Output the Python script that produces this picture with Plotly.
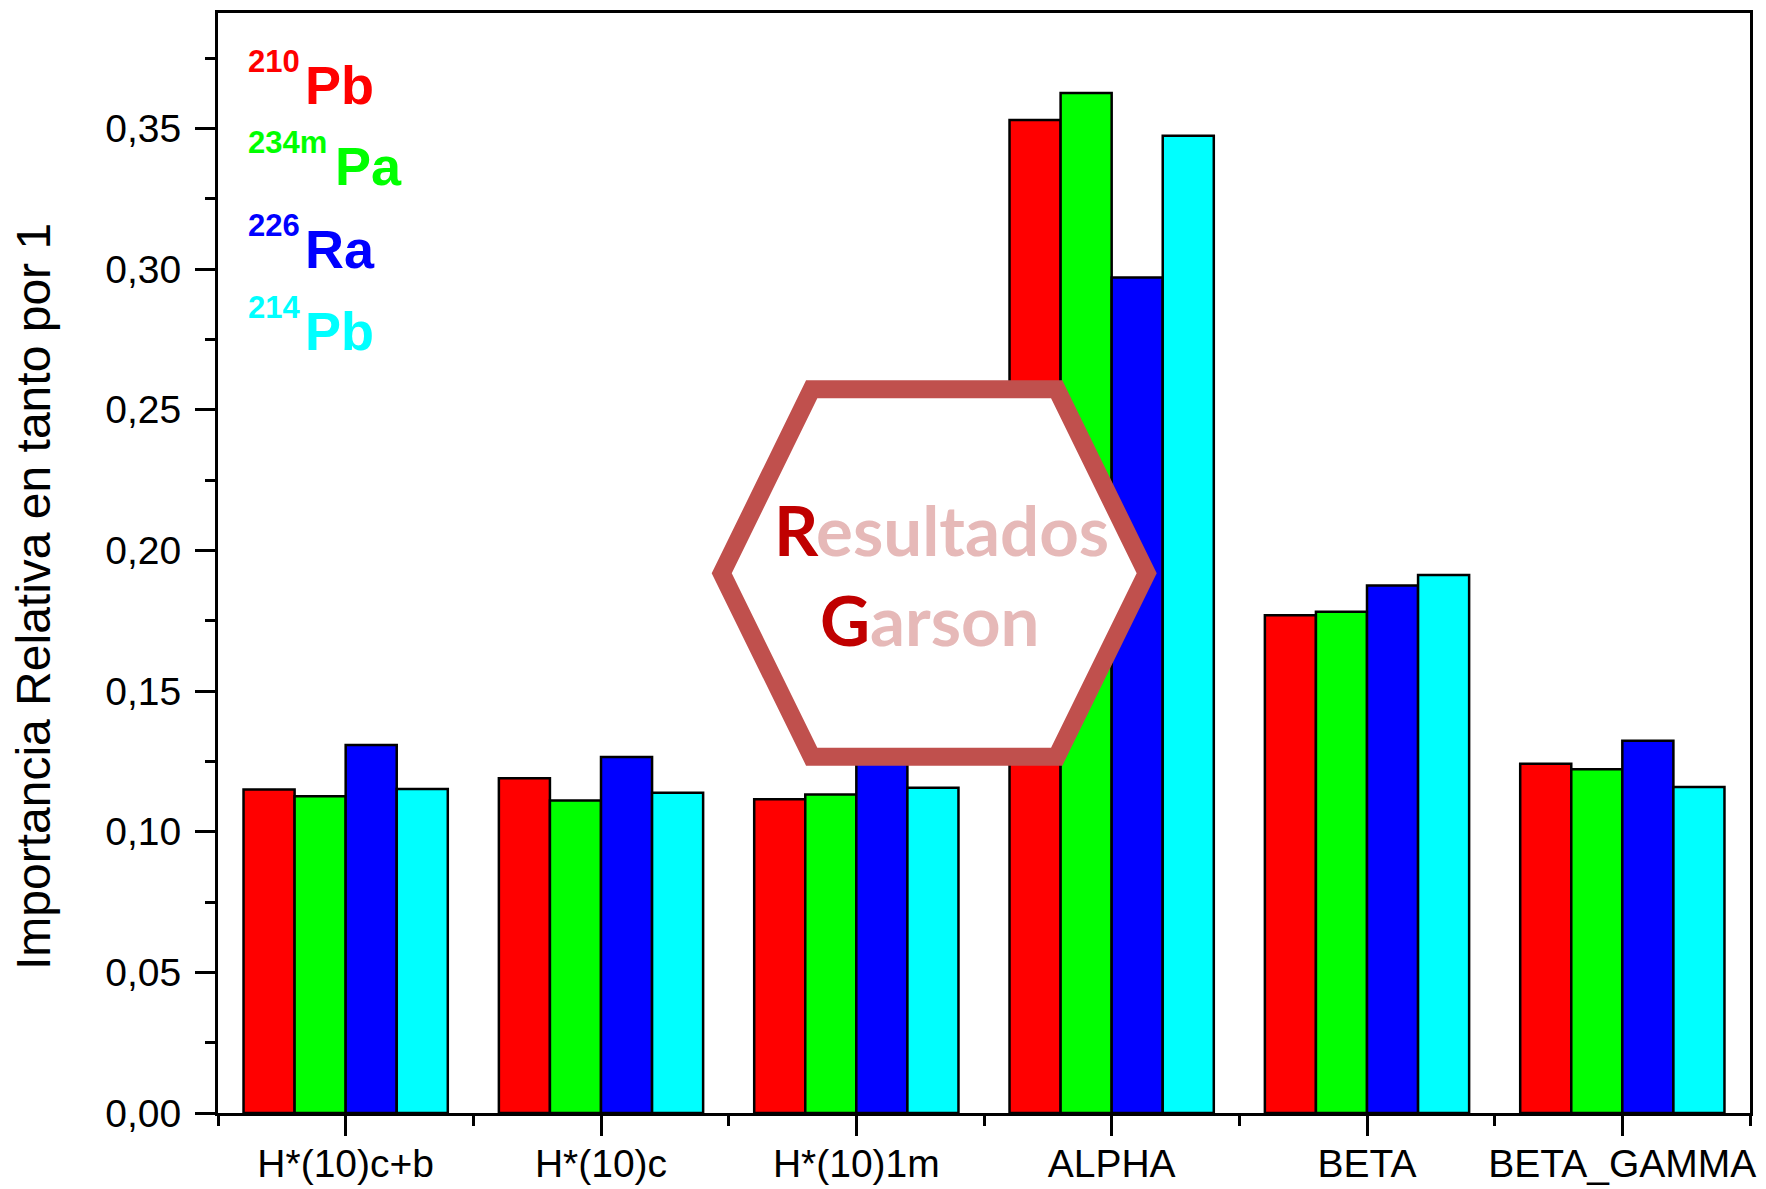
import plotly.graph_objects as go

# ---------------- data ----------------
categories = ["H*(10)c+b", "H*(10)c", "H*(10)1m", "ALPHA", "BETA", "BETA_GAMMA"]
pb210 = [0.1150, 0.1190, 0.1115, 0.3530, 0.1769, 0.1241]
pa234m = [0.1126, 0.1111, 0.1132, 0.3626, 0.1782, 0.1222]
ra226 = [0.1308, 0.1265, 0.1310, 0.2970, 0.1875, 0.1323]
pb214 = [0.1152, 0.1138, 0.1156, 0.3474, 0.1912, 0.1159]

series_names = ["210Pb", "234mPa", "226Ra", "214Pb"]
series_values = [pb210, pa234m, ra226, pb214]
series_colors = ["#FF0000", "#00FF00", "#0000FF", "#00FFFF"]
legend_sup = ["210", "234m", "226", "214"]
legend_main = ["Pb", "Pa", "Ra", "Pb"]

y_ticks = [0.00, 0.05, 0.10, 0.15, 0.20, 0.25, 0.30, 0.35]

# ---------------- layout geometry (page pixels) ----------------
OFF = 8                     # default <body> margin of the html page
PAGE_W, PAGE_H = 1766, 1189
W, H = PAGE_W - OFF, PAGE_H - OFF
L, R, T, B = 218, 1750, 13, 1113   # plot area in page pixels
PW, PH = R - L, B - T


def px(xp):
    return (xp - L) / PW


def py(yp):
    return (B - yp) / PH


fig = go.Figure()
xs = list(range(len(categories)))
for name, vals, col in zip(series_names, series_values, series_colors):
    fig.add_trace(go.Bar(
        x=xs, y=vals, name=name,
        marker=dict(color=col, line=dict(color="black", width=2.5)),
    ))

axis_font = dict(family="Liberation Sans, Arial, sans-serif", size=39, color="black")

fig.update_layout(
    width=W, height=H,
    margin=dict(l=L - OFF, r=(OFF + W) - R, t=T - OFF, b=(OFF + H) - B, pad=0),
    paper_bgcolor="white", plot_bgcolor="white",
    barmode="group", bargap=0.2, bargroupgap=0.0,
    showlegend=False,
    separators=",.",
    font=axis_font,
)

fig.update_xaxes(
    range=[-0.5, 5.5], automargin=False,
    tickmode="array", tickvals=xs, ticktext=categories,
    showline=True, linecolor="black", linewidth=3, mirror=True,
    ticks="outside", ticklen=20, tickwidth=3, tickcolor="black",
    minor=dict(tick0=-0.5, dtick=1, ticks="outside", ticklen=10, tickwidth=3, tickcolor="black"),
    showgrid=False, zeroline=False,
    tickfont=axis_font, ticklabelstandoff=-6,
)
fig.update_yaxes(
    range=[0, 0.391], automargin=False,
    tickmode="array", tickvals=y_ticks, tickformat=".2f",
    showline=True, linecolor="black", linewidth=3, mirror=True,
    ticks="outside", ticklen=20, tickwidth=3, tickcolor="black",
    minor=dict(dtick=0.025, tick0=0, ticks="outside", ticklen=10, tickwidth=3, tickcolor="black"),
    showgrid=False, zeroline=False,
    tickfont=axis_font, ticklabelstandoff=6,
)

# y-axis title as rotated annotation
fig.add_annotation(
    xref="paper", yref="paper", x=px(33), y=py(597),
    text="Importancia Relativa en tanto por 1", textangle=-90,
    showarrow=False, xanchor="center", yanchor="middle",
    font=dict(family="Liberation Sans, Arial, sans-serif", size=48, color="black"),
)

# legend made of coloured isotope labels
main_fs, sup_fs = 54, 31
main_baselines = [104, 185, 268, 350]
main_lefts = [304, 334, 304, 304]
for i in range(4):
    bl = main_baselines[i]
    fig.add_annotation(
        xref="paper", yref="paper", x=px(main_lefts[i]), y=py(bl - 0.347 * main_fs),
        text="<b>%s</b>" % legend_main[i], showarrow=False,
        xanchor="left", yanchor="middle", borderpad=0,
        font=dict(family="Liberation Sans, Arial, sans-serif", size=main_fs, color=series_colors[i]),
    )
    sbl = bl - 32
    fig.add_annotation(
        xref="paper", yref="paper", x=px(247), y=py(sbl - 0.347 * sup_fs),
        text="<b>%s</b>" % legend_sup[i], showarrow=False,
        xanchor="left", yanchor="middle", borderpad=0,
        font=dict(family="Liberation Sans, Arial, sans-serif", size=sup_fs, color=series_colors[i]),
    )

# hexagon badge
hex_pts = [(811.7, 389.3), (1056.7, 389.3), (1146.7, 573.3), (1056.7, 756.7), (811.7, 756.7), (721.7, 573.3)]
path = "M " + " L ".join("%.5f,%.5f" % (px(a), py(b)) for a, b in hex_pts) + " Z"
fig.add_shape(
    type="path", path=path, xref="paper", yref="paper",
    line=dict(color="#C0504D", width=18), fillcolor="white", layer="above",
)

badge_fs = 69
badge_font = dict(family="Lato, Open Sans, sans-serif", size=badge_fs)
fig.add_annotation(
    xref="paper", yref="paper", x=px(941), y=py(556 - 0.387 * badge_fs),
    text="<b><span style='color:#C00000'>R</span><span style='color:#E6B9B8'>esultados</span></b>",
    showarrow=False, xanchor="center", yanchor="middle", borderpad=0, font=badge_font,
)
fig.add_annotation(
    xref="paper", yref="paper", x=px(930), y=py(646 - 0.387 * badge_fs),
    text="<b><span style='color:#C00000'>G</span><span style='color:#E6B9B8'>arson</span></b>",
    showarrow=False, xanchor="center", yanchor="middle", borderpad=0, font=badge_font,
)

fig.write_html("out.html")
